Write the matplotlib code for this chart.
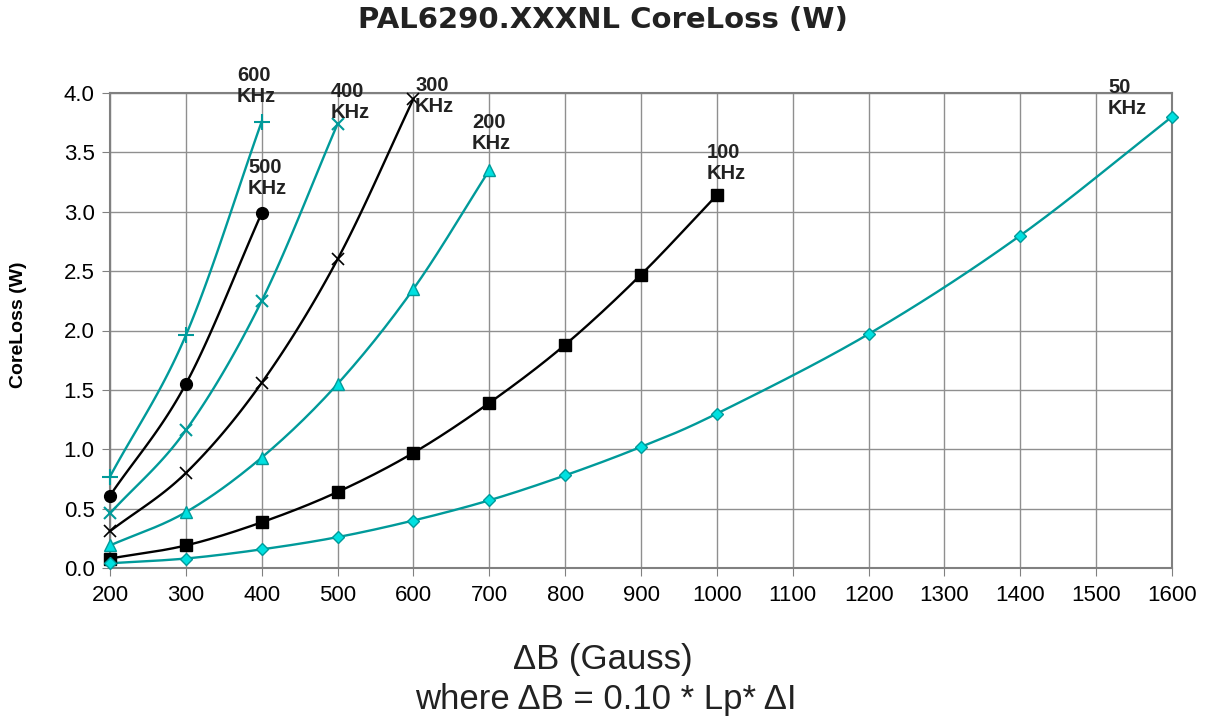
import numpy as np
import matplotlib
matplotlib.use("Agg")
import matplotlib.pyplot as plt

plt.rcParams['font.family'] = ['Liberation Sans', 'DejaVu Sans']

# ---- data ----
x_600 = [200, 300, 400]
y_600 = [0.77, 1.96, 3.76]
x_500 = [200, 300, 400]
y_500 = [0.61, 1.55, 2.99]
x_400 = [200, 300, 400, 500]
y_400 = [0.46, 1.16, 2.25, 3.74]
x_300 = [200, 300, 400, 500, 600]
y_300 = [0.31, 0.80, 1.56, 2.60, 3.95]
x_200 = [200, 300, 400, 500, 600, 700]
y_200 = [0.19, 0.47, 0.93, 1.55, 2.35, 3.35]
x_100 = [200, 300, 400, 500, 600, 700, 800, 900, 1000]
y_100 = [0.08, 0.19, 0.385, 0.64, 0.97, 1.39, 1.88, 2.47, 3.14]
x_50 = [200, 300, 400, 500, 600, 700, 800, 900, 1000, 1200, 1400, 1600]
y_50 = [0.04, 0.08, 0.157, 0.26, 0.40, 0.57, 0.78, 1.02, 1.30, 1.97, 2.80, 3.80]

labels = ["600\nKHz", "500\nKHz", "400\nKHz", "300\nKHz", "200\nKHz", "100\nKHz", "50\nKHz"]
x_ticks = list(range(200, 1700, 100))
y_ticks = [0.0, 0.5, 1.0, 1.5, 2.0, 2.5, 3.0, 3.5, 4.0]

TEAL = "#009a9a"
CYAN = "#00e0e0"


def smooth(xs, ys, n=30):
    """Cubic Hermite (Catmull-Rom) path through the given points, like a smoothed line."""
    xs = np.asarray(xs, float)
    ys = np.asarray(ys, float)
    if len(xs) < 3:
        return xs, ys
    m = len(xs)
    tx = np.zeros(m)
    ty = np.zeros(m)
    for i in range(m):
        i0 = max(i - 1, 0)
        i1 = min(i + 1, m - 1)
        f = 1.0 if (i == 0 or i == m - 1) else 0.5
        tx[i] = (xs[i1] - xs[i0]) * f
        ty[i] = (ys[i1] - ys[i0]) * f
    outx, outy = [], []
    t = np.linspace(0, 1, n)
    h00 = 2 * t**3 - 3 * t**2 + 1
    h10 = t**3 - 2 * t**2 + t
    h01 = -2 * t**3 + 3 * t**2
    h11 = t**3 - t**2
    for i in range(m - 1):
        px = h00 * xs[i] + h10 * tx[i] + h01 * xs[i + 1] + h11 * tx[i + 1]
        py = h00 * ys[i] + h10 * ty[i] + h01 * ys[i + 1] + h11 * ty[i + 1]
        outx.extend(px[:-1] if i < m - 2 else px)
        outy.extend(py[:-1] if i < m - 2 else py)
    return np.array(outx), np.array(outy)


fig = plt.figure(figsize=(12.06, 7.25), dpi=100)
ax = fig.add_axes([110 / 1206, 1 - 568 / 725, (1172 - 110) / 1206, (568 - 93) / 725])

series = [
    (x_600, y_600, TEAL, dict(marker='+', ms=11, mew=1.5, mec=TEAL, mfc=TEAL)),
    (x_500, y_500, 'black', dict(marker='o', ms=8.5, mec='black', mfc='black')),
    (x_400, y_400, TEAL, dict(marker='x', ms=8.5, mew=1.5, mec=TEAL, mfc=TEAL)),
    (x_300, y_300, 'black', dict(marker='x', ms=8.5, mew=1.2, mec='black', mfc='black')),
    (x_200, y_200, TEAL, dict(marker='^', ms=9, mew=1.0, mec=TEAL, mfc=CYAN)),
    (x_100, y_100, 'black', dict(marker='s', ms=8.5, mec='black', mfc='black')),
    (x_50, y_50, TEAL, dict(marker='D', ms=6.5, mew=1.0, mec=TEAL, mfc=CYAN)),
]

for xs, ys, col, mk in series:
    sx, sy = smooth(xs, ys)
    ax.plot(sx, sy, color=col, lw=1.7, zorder=3, clip_on=False)
    ax.plot(xs, ys, linestyle='none', zorder=4, clip_on=False, **mk)

ax.set_xlim(200, 1600)
ax.set_ylim(0, 4.0)
ax.set_xticks(x_ticks)
ax.set_yticks(y_ticks)
ax.set_yticklabels([f"{v:.1f}" for v in y_ticks])
ax.grid(True, color='#8f8f8f', lw=1.0)
ax.set_axisbelow(True)
for s in ax.spines.values():
    s.set_color('#808080')
    s.set_linewidth(1.5)
ax.tick_params(axis='both', direction='out', length=6, color='#808080', labelsize=16, labelcolor='black')
ax.tick_params(axis='x', pad=6)
ax.tick_params(axis='y', pad=5)

# series labels
label_pos = [(237, 66), (248, 158), (331, 82), (415, 76), (472, 113), (707, 143), (1108, 78)]
for lab, (px, py) in zip(labels, label_pos):
    fig.text(px / 1206, 1 - py / 725, lab, ha='left', va='top', fontsize=14.5,
             fontweight='bold', color='#222222', linespacing=1.15)

fig.text(603 / 1206, 1 - 20 / 725, "PAL6290.XXXNL CoreLoss (W)", ha='center', va='center',
         fontsize=21, fontweight='bold', color='#222222', family=['DejaVu Sans'])
fig.text(603 / 1206, 1 - 659 / 725, "\u0394B (Gauss)", ha='center', va='center', fontsize=25, color='#222222')
fig.text(606 / 1206, 1 - 700 / 725, "where \u0394B = 0.10 * Lp* \u0394I", ha='center', va='center',
         fontsize=25, color='#222222')
fig.text(19 / 1206, 1 - 325 / 725, "CoreLoss (W)", ha='center', va='center', rotation=90,
         fontsize=14, fontweight='bold', color='black')

fig.savefig("out.png", dpi=100)
